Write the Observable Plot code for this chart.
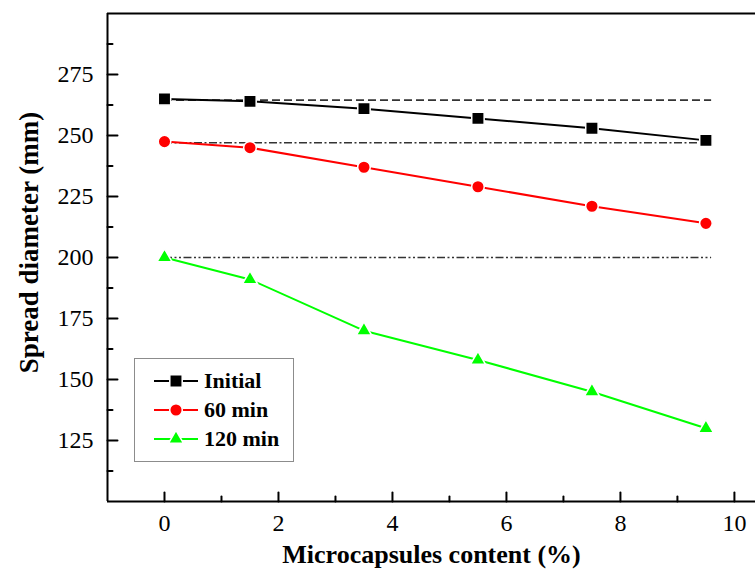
<!DOCTYPE html>
<html>
<head>
<meta charset="utf-8">
<script src="https://cdn.jsdelivr.net/npm/d3@7"></script>
<script src="https://cdn.jsdelivr.net/npm/@observablehq/plot@0.6"></script>
<style>
  html, body { margin: 0; padding: 0; background: #fff; }
  #wrap { position: relative; width: 755px; height: 570px; overflow: hidden; font-family: 'Liberation Serif', 'Times New Roman', serif; }
  #legend { position: absolute; left: 134px; top: 358px; width: 160px; height: 104px; border: 1px solid #8c8c8c; background: #fff; box-sizing: border-box; }
  #legend .row { position: absolute; left: 0; height: 28px; display: flex; align-items: center; }
  #legend .row span { font-family: 'Liberation Serif', 'Times New Roman', serif; font-weight: bold; font-size: 22px; color: #000; margin-left: 6px; }
</style>
</head>
<body>
<div id="wrap"><div id="chart"></div><div id="legend"></div></div>
<script>
// ---- data ----
const contents = [0, 1.5, 3.5, 5.5, 7.5, 9.5];
const initialSpread = [265, 264, 261, 257, 253, 248];
const spread60 = [247.5, 245, 237, 229, 221, 214];
const spread120 = [200, 191, 170, 158, 145, 130];
const seriesNames = ["Initial", "60 min", "120 min"];
const seriesColors = ["#000000", "#ff0000", "#00ff00"];
const seriesSymbols = ["square", "circle", "triangle"];
const refLevels = [264.5, 247, 200];
const refFrom = 0, refTo = 9.6;
const yMajor = [125, 150, 175, 200, 225, 250, 275];
const yMinor = [112.5, 137.5, 162.5, 187.5, 212.5, 237.5, 262.5, 287.5];
const xMajor = [0, 2, 4, 6, 8, 10];
const xMinor = [1, 3, 5, 7, 9];
const xTitle = "Microcapsules content (%)";
const yTitle = "Spread diameter (mm)";

const allSeries = [initialSpread, spread60, spread120];
const rows = [];
allSeries.forEach((vals, i) => vals.forEach((v, j) => rows.push({series: seriesNames[i], x: contents[j], y: v})));

const markerR = {square: 7, circle: 6.3, triangle: 5.6};
const tickShape = {draw(ctx, l) { ctx.moveTo(0, 0); ctx.lineTo(0, -l); }};
const font = "'Liberation Serif', 'Times New Roman', serif";
const dashes = ["8,4", "8,2.5,2,2.5", "8,2.5,2,2.5,2,2.5"];

const refMarks = refLevels.map((lv, i) =>
  Plot.ruleY([lv], {x1: refFrom, x2: refTo, stroke: "#333", strokeWidth: 1.6, strokeDasharray: dashes[i]}));

const dotMarks = seriesNames.map((name, i) =>
  Plot.dot(rows.filter(d => d.series === name), {x: "x", y: "y", symbol: "series", fill: "series", stroke: "#fff", strokeWidth: 1.5, r: markerR[seriesSymbols[i]]}));

const chart = Plot.plot({
  width: 755, height: 570,
  marginLeft: 107, marginRight: 0, marginTop: 13, marginBottom: 69,
  style: {fontFamily: font, background: "#fff", color: "#000"},
  x: {domain: [-1, 10.37]},
  y: {domain: [100, 300]},
  color: {domain: seriesNames, range: seriesColors},
  symbol: {domain: seriesNames, range: seriesSymbols},
  marks: [
    ...refMarks,
    Plot.line(rows, {x: "x", y: "y", z: "series", stroke: "series", strokeWidth: 2}),
    ...dotMarks,
    // frame
    Plot.ruleX([-1], {stroke: "#000", strokeWidth: 2}),
    Plot.ruleY([100, 300], {stroke: "#000", strokeWidth: 2}),
    // ticks (inward)
    Plot.vector(yMajor, {x: () => -1, y: d => d, rotate: 90, length: 10, anchor: "start", shape: tickShape, stroke: "#000", strokeWidth: 2}),
    Plot.vector(yMinor, {x: () => -1, y: d => d, rotate: 90, length: 5, anchor: "start", shape: tickShape, stroke: "#000", strokeWidth: 2}),
    Plot.vector(xMajor, {x: d => d, y: () => 100, rotate: 0, length: 9, anchor: "start", shape: tickShape, stroke: "#000", strokeWidth: 2}),
    Plot.vector(xMinor, {x: d => d, y: () => 100, rotate: 0, length: 5, anchor: "start", shape: tickShape, stroke: "#000", strokeWidth: 2}),
    Plot.axisY(yMajor, {tickSize: 0, tickPadding: 14, fontSize: 24, label: null}),
    Plot.axisX(xMajor, {tickSize: 0, tickPadding: 12, fontSize: 24, label: null}),
    Plot.text([yTitle], {frameAnchor: "left", textAnchor: "middle", lineAnchor: "middle", rotate: -90, dx: -78, dy: -15, fontSize: 27, fontWeight: "bold"}),
    Plot.text([xTitle], {frameAnchor: "bottom", textAnchor: "middle", lineAnchor: "middle", dy: 53, fontSize: 26, fontWeight: "bold"})
  ]
});
document.getElementById("chart").appendChild(chart);

// legend
const legend = d3.select("#legend");
const rowTops = [8, 37, 66];
seriesNames.forEach((name, i) => {
  const row = legend.append("div").attr("class", "row").style("top", rowTops[i] + "px").style("left", "19px");
  const svg = row.append("svg").attr("width", 44).attr("height", 28);
  svg.append("line").attr("x1", 0).attr("x2", 44).attr("y1", 14).attr("y2", 14).attr("stroke", seriesColors[i]).attr("stroke-width", 2);
  const sym = {square: d3.symbolSquare, circle: d3.symbolCircle, triangle: d3.symbolTriangle}[seriesSymbols[i]];
  const r = markerR[seriesSymbols[i]];
  svg.append("path").attr("transform", "translate(22,14)").attr("d", d3.symbol(sym, Math.PI * r * r)())
    .attr("fill", seriesColors[i]).attr("stroke", "#fff").attr("stroke-width", 1.5);
  row.append("span").text(name);
});
</script>
</body>
</html>
